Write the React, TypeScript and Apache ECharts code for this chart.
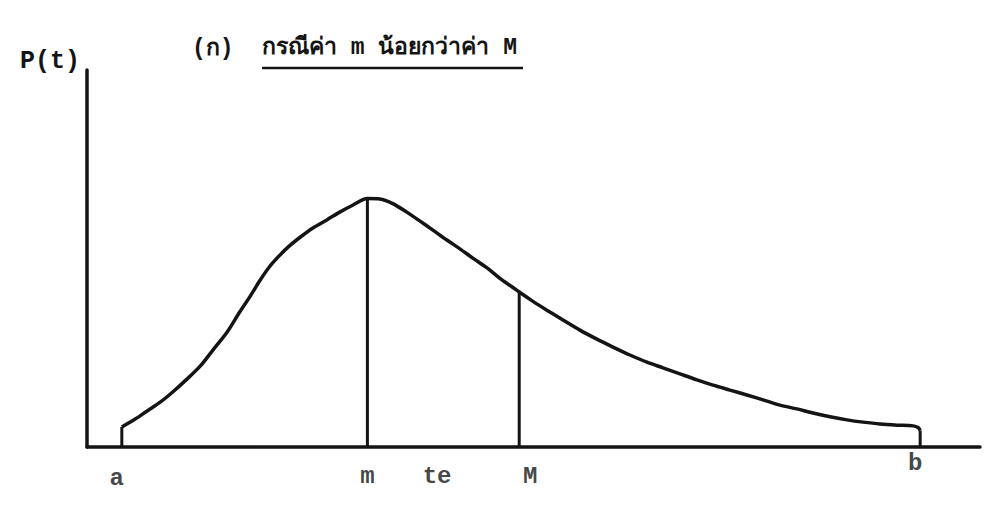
import React, { useEffect, useRef } from "react";
import * as echarts from "echarts";

// Density curve P(t) sampled along t (t: 0–100, P: 0–100)
const curveT = [
  3.9, 5.4, 6.7, 8.2, 9.6, 11.1, 12.7, 14.1, 15.7, 17.1, 18.3, 19.4, 20.5, 21.6, 22.7, 23.9, 25.3, 26.9, 28.3, 29.8,
  31.4, 32.8, 34.3, 35.8, 37.3, 38.7, 40.3, 41.8, 43.2, 44.8, 46.2, 47.7, 48.4, 49.9, 51.5, 53.3, 55.2, 57.1, 58.9,
  60.8, 62.7, 64.5, 66.4, 68.3, 70.1, 72.0, 73.9, 75.7, 77.6, 79.5, 81.3, 83.2, 85.1, 86.9, 88.8, 90.7, 92.5, 93.1, 93.3,
];
const curveP = [
  5.3, 7.4, 9.5, 11.9, 14.6, 17.8, 21.5, 25.7, 30.5, 35.8, 40.1, 44.3, 48.0, 50.9, 53.4, 55.7, 58.1, 60.3, 62.3, 64.2,
  65.9, 65.8, 64.5, 62.3, 59.9, 57.6, 54.9, 52.5, 50.1, 47.5, 44.8, 42.3, 41.1, 38.7, 36.3, 33.7, 31.0, 28.6, 26.5,
  24.4, 22.5, 21.0, 19.4, 17.8, 16.4, 15.1, 13.8, 12.5, 11.1, 10.1, 9.0, 8.0, 7.2, 6.6, 6.1, 5.8, 5.6, 5.1, 4.4,
];

// Points marked on the t axis
const markNames = ["a", "m", "te", "M", "b"];
const markT = [3.9, 31.4, 39.2, 48.4, 93.3];

// Ordinates drawn at m (mode) and M
const ordinateT = [31.4, 48.4];
const ordinateP = [65.9, 41.1];

const titleTag = "(ก)";
const titleText = "กรณีค่า m น้อยกว่าค่า M";
const yName = "P(t)";

const INK = "#141414";
const MONO = "'Liberation Mono', 'Courier New', monospace";

export default function App() {
  const ref = useRef<HTMLDivElement>(null);

  useEffect(() => {
    if (!ref.current) return;
    const chart = echarts.init(ref.current, undefined, { renderer: "svg" });

    const curve = curveT.map((t, i) => [t, curveP[i]]);
    const first = curve[0];
    const last = curve[curve.length - 1];

    const labelStyle: Record<string, any> = {
      a: { offset: [-5, 2], distance: 17 },
      m: { offset: [0, 0], distance: 17 },
      te: { offset: [0, 0], distance: 17 },
      M: { offset: [11, 0], distance: 17 },
      b: { offset: [-5, 0], distance: 4 },
    };

    chart.setOption({
      animation: false,
      backgroundColor: "#ffffff",
      title: {
        text: yName,
        left: 15,
        top: 44,
        textStyle: { fontFamily: MONO, fontSize: 25, fontWeight: "bold", color: INK },
      },
      grid: { left: 87, right: 6, top: 70, bottom: 62 },
      xAxis: {
        type: "value",
        min: 0,
        max: 100,
        axisLine: { show: true, onZero: false, lineStyle: { color: INK, width: 3.5 } },
        axisTick: { show: false },
        axisLabel: { show: false },
        splitLine: { show: false },
      },
      yAxis: {
        type: "value",
        min: 0,
        max: 100,
        axisLine: { show: true, lineStyle: { color: INK, width: 3.5 } },
        axisTick: { show: false },
        axisLabel: { show: false },
        splitLine: { show: false },
      },
      graphic: [
        {
          type: "text",
          left: 192,
          top: 37,
          style: { text: titleTag, font: `bold 23px ${MONO}`, fill: INK },
        },
        {
          type: "text",
          left: 262,
          top: 36,
          style: { text: titleText, font: `bold 23px ${MONO}`, fill: INK },
        },
        {
          type: "line",
          shape: { x1: 262, y1: 68, x2: 523, y2: 68 },
          style: { stroke: INK, lineWidth: 2.5 },
        },
      ],
      series: [
        {
          type: "line",
          data: curve,
          smooth: 0.3,
          symbol: "none",
          lineStyle: { color: INK, width: 3.5 },
        },
        {
          type: "line",
          data: [[first[0], 0], first],
          symbol: "none",
          lineStyle: { color: INK, width: 3 },
        },
        {
          type: "line",
          data: [last, [last[0], 0]],
          symbol: "none",
          lineStyle: { color: INK, width: 3 },
        },
        ...ordinateT.map((t, i) => ({
          type: "line",
          data: [[t, 0], [t, ordinateP[i]]],
          symbol: "none",
          lineStyle: { color: INK, width: 3 },
        })),
        {
          type: "scatter",
          symbolSize: 0,
          data: markNames.map((n, i) => ({
            value: [markT[i], 0],
            name: n,
            label: {
              show: true,
              position: "bottom",
              formatter: n,
              ...labelStyle[n],
            },
          })),
          label: {
            fontFamily: MONO,
            fontSize: 24,
            fontWeight: "bold",
            color: INK,
          },
        },
      ],
    });

    return () => chart.dispose();
  }, []);

  return (
    <div
      ref={ref}
      style={{ position: "fixed", left: 0, top: 0, width: 986, height: 509, background: "#fff" }}
    />
  );
}
